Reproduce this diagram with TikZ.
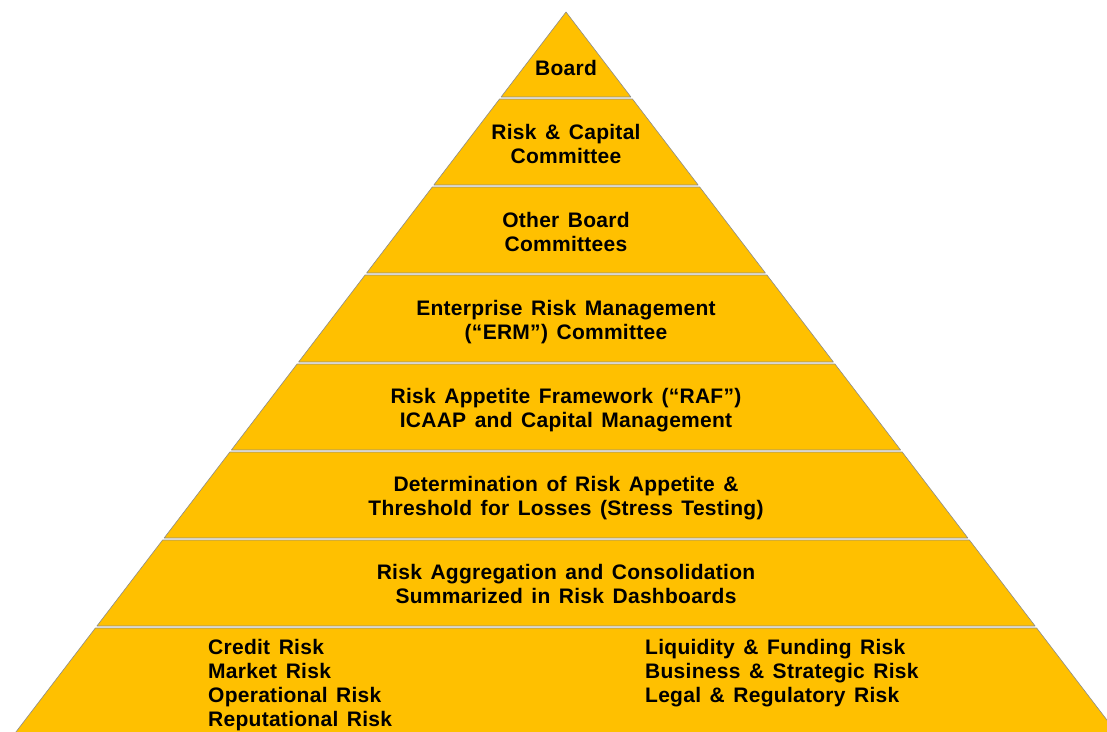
\documentclass[tikz,border=0pt]{standalone}
\usepackage{fontspec}
\setmainfont{Liberation Sans}[LetterSpace=1.3, WordSpace=1.4]
\definecolor{pyrgold}{HTML}{FFC000}
\tikzset{
  layer/.style={fill=pyrgold, draw=black!45, line width=0.6pt, line join=round},
  lbl/.style={font=\bfseries\fontsize{21}{24}\selectfont, align=center, inner sep=0pt}
}
\begin{document}
\begin{tikzpicture}[x=1pt, y=-1pt]
  \def\ax{566} \def\ay{12}  % apex of the pyramid
  \def\k{0.764}             % half width per unit of height
  \useasboundingbox (0,0) rectangle (1107,731);
  \clip (0,0) rectangle (1107,731);
  % layers, top to bottom
  \foreach \t/\b in {12/97, 99/185, 187/273, 275/362, 364/450, 452/538, 540/626, 628/760}{
    \draw[layer] ({\ax-\k*(\t-\ay)},\t) -- ({\ax+\k*(\t-\ay)},\t)
      -- ({\ax+\k*(\b-\ay)},\b) -- ({\ax-\k*(\b-\ay)},\b) -- cycle;
  }
  \node[lbl] (board) at (566,68) {Board};
  \node[lbl] (riskcap) at (566,144) {Risk \& Capital\\Committee};
  \node[lbl] (otherbc) at (566,232) {Other Board\\Committees};
  \node[lbl] (erm) at (566,322) {Enterprise Risk Management\\(“ERM”) Committee};
  \node[lbl] (raf) at (566,410) {Risk Appetite Framework (“RAF”)\\ICAAP and Capital Management};
  \node[lbl] (appetite) at (566,498) {Determination of Risk Appetite \&\\Threshold for Losses (Stress Testing)};
  \node[lbl] (aggr) at (566,584) {Risk Aggregation and Consolidation\\Summarized in Risk Dashboards};
  \node[lbl, align=left, anchor=west] (leftrisks) at (208,685)
    {Credit Risk\\Market Risk\\Operational Risk\\Reputational Risk};
  \node[lbl, align=left, anchor=west] (rightrisks) at (645,673)
    {Liquidity \& Funding Risk\\Business \& Strategic Risk\\Legal \& Regulatory Risk};
\end{tikzpicture}
\end{document}
